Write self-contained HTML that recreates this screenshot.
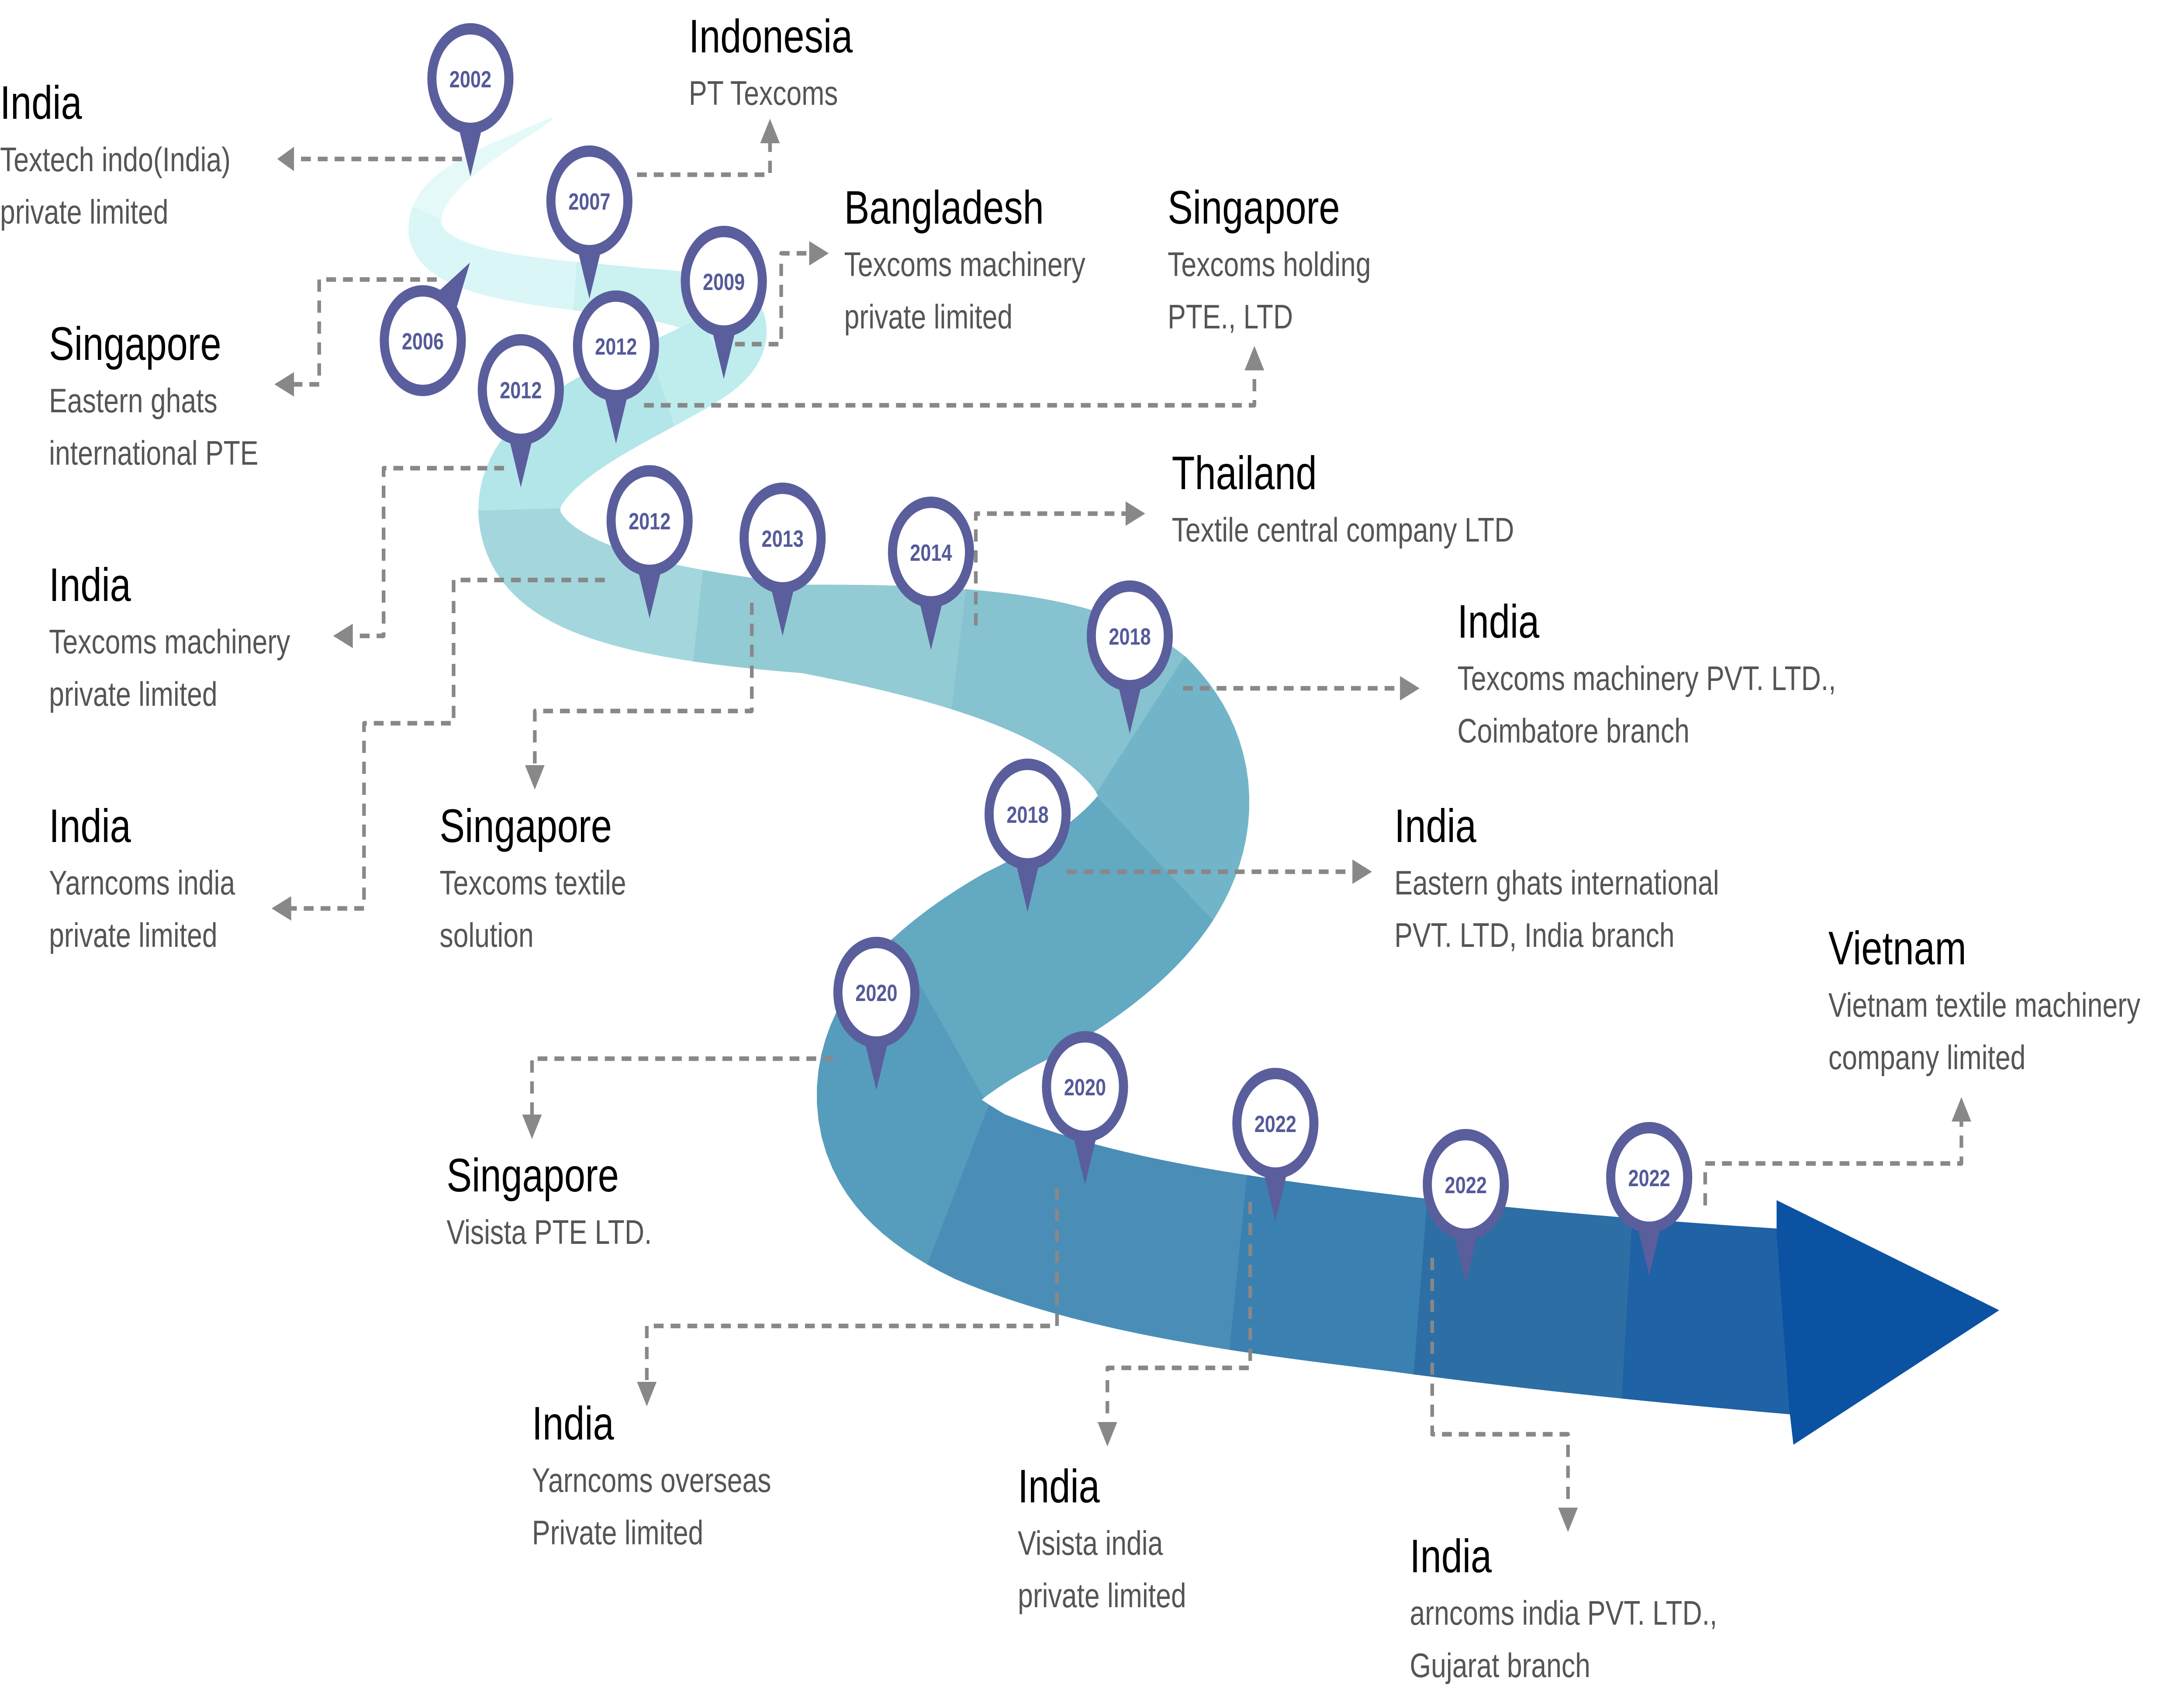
<!DOCTYPE html>
<html><head><meta charset="utf-8">
<style>
html,body{margin:0;padding:0;background:#fff;width:100vw;height:100vh;overflow:hidden;}
svg{display:block;width:100vw;height:100vh;}
.t{font-family:"Liberation Sans",sans-serif;font-size:27px;fill:#000;}
.s{font-family:"Liberation Sans",sans-serif;font-size:19.5px;fill:#555;}
.y{font-family:"Liberation Sans",sans-serif;font-size:13.5px;font-weight:bold;fill:#555a9a;text-anchor:middle;}
.d{fill:none;stroke:#888;stroke-width:2.6;stroke-dasharray:7 5;stroke-linejoin:round;}
.a{fill:#888;}
</style></head>
<body>
<svg id="sv" viewBox="0 0 1560 966.25" preserveAspectRatio="none" xmlns="http://www.w3.org/2000/svg">
<g id="rib"></g>
<polygon points="1269,687 1428,750 1281,827 1278,806 1269,706" fill="#0c52a3"/>

<g id="conn">
<path class="d" d="M330,91 H210"/><polygon class="a" points="198,91 210,84 210,98"/>
<path class="d" d="M455,100 H550 V82"/><polygon class="a" points="550,68 543,82 557,82"/>
<path class="d" d="M312,160 H228 V220 H210"/><polygon class="a" points="196,220 210,213 210,227"/>
<path class="d" d="M525,197 H558 V145 H578"/><polygon class="a" points="592,145 578,138 578,152"/>
<path class="d" d="M460,232 H896 V212"/><polygon class="a" points="896,198 889,212 903,212"/>
<path class="d" d="M360,268 H274 V364 H252"/><polygon class="a" points="238,364 252,357 252,371"/>
<path class="d" d="M432,332 H324 V414 H260 V520 H208"/><polygon class="a" points="194,520 208,513 208,527"/>
<path class="d" d="M537,345 V407 H382 V438"/><polygon class="a" points="382,452 375,438 389,438"/>
<path class="d" d="M697,358 V294 H804"/><polygon class="a" points="818,294 804,287 804,301"/>
<path class="d" d="M845,394 H1000"/><polygon class="a" points="1014,394 1000,387 1000,401"/>
<path class="d" d="M762,499 H966"/><polygon class="a" points="980,499 966,492 966,506"/>
<path class="d" d="M595,606 H380 V638"/><polygon class="a" points="380,652 373,638 387,638"/>
<path class="d" d="M755,680 V759 H462 V791"/><polygon class="a" points="462,805 455,791 469,791"/>
<path class="d" d="M893,688 V783 H791 V814"/><polygon class="a" points="791,828 784,814 798,814"/>
<path class="d" d="M1023,720 V821 H1120 V863"/><polygon class="a" points="1120,877 1113,863 1127,863"/>
<path class="d" d="M1218,690 V666 H1401 V642"/><polygon class="a" points="1401,628 1394,642 1408,642"/>
</g>

<g id="pins"></g>

<text class="t" x="0" y="68">India</text>
<text class="s" x="0" y="98">Textech indo(India)</text>
<text class="s" x="0" y="128">private limited</text>

<text class="t" x="492" y="30">Indonesia</text>
<text class="s" x="492" y="60">PT Texcoms</text>

<text class="t" x="603" y="128">Bangladesh</text>
<text class="s" x="603" y="158">Texcoms machinery</text>
<text class="s" x="603" y="188">private limited</text>

<text class="t" x="834" y="128">Singapore</text>
<text class="s" x="834" y="158">Texcoms holding</text>
<text class="s" x="834" y="188">PTE., LTD</text>

<text class="t" x="35" y="206">Singapore</text>
<text class="s" x="35" y="236">Eastern ghats</text>
<text class="s" x="35" y="266">international PTE</text>

<text class="t" x="837" y="280">Thailand</text>
<text class="s" x="837" y="310">Textile central company LTD</text>

<text class="t" x="35" y="344">India</text>
<text class="s" x="35" y="374">Texcoms machinery</text>
<text class="s" x="35" y="404">private limited</text>

<text class="t" x="1041" y="365">India</text>
<text class="s" x="1041" y="395">Texcoms machinery PVT. LTD.,</text>
<text class="s" x="1041" y="425">Coimbatore branch</text>

<text class="t" x="35" y="482">India</text>
<text class="s" x="35" y="512">Yarncoms india</text>
<text class="s" x="35" y="542">private limited</text>

<text class="t" x="314" y="482">Singapore</text>
<text class="s" x="314" y="512">Texcoms textile</text>
<text class="s" x="314" y="542">solution</text>

<text class="t" x="996" y="482">India</text>
<text class="s" x="996" y="512">Eastern ghats international</text>
<text class="s" x="996" y="542">PVT. LTD, India branch</text>

<text class="t" x="1306" y="552">Vietnam</text>
<text class="s" x="1306" y="582">Vietnam textile machinery</text>
<text class="s" x="1306" y="612">company limited</text>

<text class="t" x="319" y="682">Singapore</text>
<text class="s" x="319" y="712">Visista PTE LTD.</text>

<text class="t" x="380" y="824">India</text>
<text class="s" x="380" y="854">Yarncoms overseas</text>
<text class="s" x="380" y="884">Private limited</text>

<text class="t" x="727" y="860">India</text>
<text class="s" x="727" y="890">Visista india</text>
<text class="s" x="727" y="920">private limited</text>

<text class="t" x="1007" y="900">India</text>
<text class="s" x="1007" y="930">arncoms india PVT. LTD.,</text>
<text class="s" x="1007" y="960">Gujarat branch</text>
</svg>
<script>
(function(){
var NS="http://www.w3.org/2000/svg";
var segs=[
 [[394,68],[350,88],[300,105],[304,132],1,24],
 [[304,132],[310,160],[400,162],[460,168],24,28],
 [[460,168],[520,174],[545,185],[511,203],28,48],
 [[511,203],[470,225],[370,250],[371,292],48,58],
 [[371,292],[372,338],[470,352],[575,360],58,50],
 [[575,360],[680,368],[770,380],[815,415],50,100],
 [[815,415],[870,460],[830,510],[726,553],100,115],
 [[726,553],[640,590],[590,640],[700,685],115,100],
 [[700,685],[790,715],[900,725],[1000,735],100,100],
 [[1000,735],[1100,745],[1200,752],[1285,757],100,105]
];
function bez(s,t){var a=s[0],b=s[1],c=s[2],d=s[3],u=1-t;
 return [u*u*u*a[0]+3*u*u*t*b[0]+3*u*t*t*c[0]+t*t*t*d[0],u*u*u*a[1]+3*u*u*t*b[1]+3*u*t*t*c[1]+t*t*t*d[1]];}
var P=[],W=[];
segs.forEach(function(s,i){var N=40;for(var k=(i?1:0);k<=N;k++){var t=k/N;P.push(bez(s,t));W.push(s[4]+(s[5]-s[4])*t);}});
var L=[],R=[];
for(var i=0;i<P.length;i++){var a=P[Math.max(0,i-1)],b=P[Math.min(P.length-1,i+1)];
 var dx=b[0]-a[0],dy=b[1]-a[1],m=Math.hypot(dx,dy)||1;var nx=-dy/m,ny=dx/m,h=W[i]/2;
 L.push([P[i][0]+nx*h,P[i][1]+ny*h]);R.push([P[i][0]-nx*h,P[i][1]-ny*h]);}
var cols=["#e6f9f9","#dbf6f6","#cbf1f1","#bfedee","#b3e6e9","#a3d7dd","#93cbd4","#86c2d0","#73b5c8","#63a9c2","#569dbd","#4a8eb7","#3a80b0","#2d6ea5","#1f62a5","#0c52a3"];
var n=cols.length,g=document.getElementById("rib");
var bounds=[0,35,70,100,130,160,190,215,240,262,290,318,345,362,382,P.length-1];
for(var c=0;c<n;c++){var s0=bounds[c],s1=(c<n-1)?bounds[c+1]+1:P.length-1;
 if(s1>P.length-1)s1=P.length-1;
 var pts=[];for(var i=s0;i<=s1;i++)pts.push(L[i].join(","));for(var i=s1;i>=s0;i--)pts.push(R[i].join(","));
 var pg=document.createElementNS(NS,"polygon");pg.setAttribute("points",pts.join(" "));pg.setAttribute("fill",cols[c]);
 pg.setAttribute("stroke",cols[c]);pg.setAttribute("stroke-width","0.8");g.appendChild(pg);}
var pins=[[336,45,"2002"],[421,115,"2007"],[517,161,"2009"],[302,195,"2006",-143],[440,198,"2012"],[372,223,"2012"],[464,298,"2012"],[559,308,"2013"],[665,316,"2014"],[807,364,"2018"],[734,466,"2018"],[626,568,"2020"],[775,622,"2020"],[911,643,"2022"],[1047,678,"2022"],[1178,674,"2022"]];
var pg2=document.getElementById("pins");
pins.forEach(function(p){var gg=document.createElementNS(NS,"g");
 gg.setAttribute("transform","translate("+p[0]+","+p[1]+")");
 var tri=document.createElementNS(NS,"polygon");tri.setAttribute("points","-9,26 9,26 0,56");tri.setAttribute("fill","#5a5e9c");
 if(p[3])tri.setAttribute("transform","rotate("+p[3]+")");
 gg.appendChild(tri);
 var ci=document.createElementNS(NS,"ellipse");ci.setAttribute("rx","27.5");ci.setAttribute("ry","28.5");ci.setAttribute("fill","#fff");ci.setAttribute("stroke","#5a5e9c");ci.setAttribute("stroke-width","6.5");gg.appendChild(ci);
 var tx=document.createElementNS(NS,"text");tx.setAttribute("class","y");tx.setAttribute("y","5");tx.textContent=p[2];gg.appendChild(tx);
 pg2.appendChild(gg);});
})();
</script>
</body></html>
